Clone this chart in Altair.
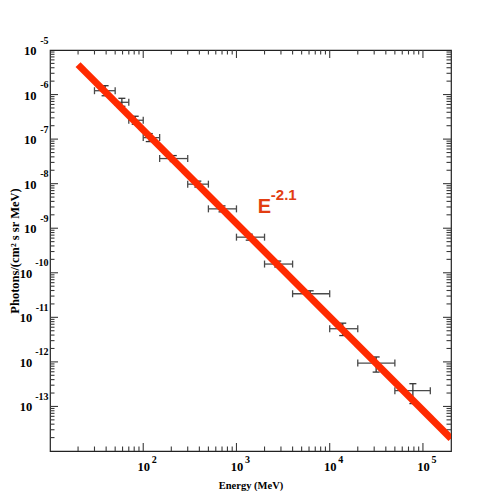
import altair as alt
import pandas as pd

# ---- data ----
energy = [39, 59, 82, 116, 210, 385, 700, 1370, 2770, 6170, 13800, 31500, 78000]
energy_lo = [30, 50, 70, 100, 150, 300, 500, 1000, 2000, 4000, 10000, 20000, 50000]
energy_hi = [50, 70, 100, 150, 300, 500, 1000, 2000, 4000, 10000, 20000, 50000, 120000]
flux = [1.22e-6, 6.7e-7, 2.65e-7, 1.08e-7, 3.66e-8, 9.75e-9, 2.72e-9, 6.3e-10,
        1.57e-10, 3.38e-11, 5.55e-12, 9.4e-13, 2.26e-13]
flux_lo = [9.4e-7, 5.45e-7, 2.16e-7, 8.8e-8, 3.14e-8, 8.4e-9, 2.33e-9, 5.4e-10,
           1.35e-10, 2.9e-11, 3.9e-12, 5.9e-13, 1.16e-13]
flux_hi = [1.58e-6, 8.24e-7, 3.26e-7, 1.33e-7, 4.27e-8, 1.14e-8, 3.17e-9, 7.35e-10,
           1.83e-10, 3.94e-11, 7.4e-12, 1.29e-12, 3.24e-13]

fit_energy = [20, 200000]
fit_flux = [4.7e-6, 1.9e-14]

ann_text = ["E"]
ann_x = [1693]
ann_y = [2.18e-9]
ann_sup = ["-2.1"]
ann_sup_x = [2335]
ann_sup_y = [4.33e-9]

x_domain = [10, 2e5]
y_domain = [1e-14, 1e-5]

x_major_labels = [1e2, 1e3, 1e4, 1e5]
x_major_ticks = [1e2, 1e3, 1e4, 1e5]
x_minor_ticks = [m * 10 ** k for k in range(1, 6) for m in range(2, 10) if m * 10 ** k < 2e5]
y_labels_1 = [1e-5, 1e-6, 1e-7, 1e-8, 1e-9]
y_labels_2 = [1e-10, 1e-11, 1e-12, 1e-13]
y_labels_all = y_labels_1 + y_labels_2
y_major_ticks = [1e-6, 1e-7, 1e-8, 1e-9, 1e-10, 1e-11, 1e-12, 1e-13]
y_minor_ticks = [m * 10.0 ** k for k in range(-14, -5) for m in range(2, 10)]

pts = pd.DataFrame(dict(energy=energy, elo=energy_lo, ehi=energy_hi,
                        flux=flux, flo=flux_lo, fhi=flux_hi))
fit = pd.DataFrame(dict(energy=fit_energy, flux=fit_flux))
ann = pd.DataFrame(dict(x=ann_x, y=ann_y, t=ann_text))
ann2 = pd.DataFrame(dict(x=ann_sup_x, y=ann_sup_y, t=ann_sup))

W = H = 401
xs = alt.Scale(type="log", domain=x_domain, nice=False)
ys = alt.Scale(type="log", domain=y_domain, nice=False)

SERIF = "Liberation Serif"
TICK_COLOR = "#3a3a3a"
BAR_COLOR = "#4a4a4a"
RED = "#ff2a00"
MAJOR, MINOR = 8, 4.5


def x_tick_layer(values, side, length):
    # inward tick marks on the top / bottom frame: x from the tick value, y at the frame edge
    edge = y_domain[0] if side == "bottom" else y_domain[1]
    df = pd.DataFrame({"tv": values, "edge": [edge] * len(values)})
    return alt.Chart(df).mark_tick(
        orient="vertical", size=length, thickness=1.1, color=TICK_COLOR, opacity=1,
        yOffset=(-length / 2) if side == "bottom" else (length / 2)
    ).encode(x=alt.X("tv:Q", scale=xs, axis=None), y=alt.Y("edge:Q", scale=ys, axis=None))


def y_tick_layer(values, side, length):
    edge = x_domain[0] if side == "left" else x_domain[1]
    df = pd.DataFrame({"tv": values, "edge": [edge] * len(values)})
    return alt.Chart(df).mark_tick(
        orient="horizontal", size=length, thickness=1.1, color=TICK_COLOR, opacity=1,
        xOffset=(length / 2) if side == "left" else (-length / 2)
    ).encode(y=alt.Y("tv:Q", scale=ys, axis=None), x=alt.X("edge:Q", scale=xs, axis=None))


def label_axis(orient, values, expr, size, pad, align, shift=0, **kw):
    return alt.Axis(orient=orient, values=values, labels=True, ticks=False,
                    domain=False, grid=False, labelExpr=expr,
                    labelFont=SERIF, labelFontWeight="bold", labelFontSize=size,
                    labelColor="black", labelPadding=pad, labelAlign=align,
                    labelBaseline="middle", labelOffset=shift,
                    labelOverlap=False, labelFlush=False, labelBound=False, **kw)


EXP = "'' + round(log(datum.value) / LN10)"

ticks = [
    x_tick_layer(x_major_ticks, "bottom", MAJOR),
    x_tick_layer(x_minor_ticks, "bottom", MINOR),
    x_tick_layer(x_major_ticks, "top", MAJOR),
    x_tick_layer(x_minor_ticks, "top", MINOR),
    y_tick_layer(y_major_ticks, "left", MAJOR),
    y_tick_layer(y_minor_ticks, "left", MINOR),
    y_tick_layer(y_major_ticks, "right", MAJOR),
    y_tick_layer(y_minor_ticks, "right", MINOR),
]

x_bars = alt.Chart(pts).mark_rule(color=BAR_COLOR, strokeWidth=1.3).encode(
    x=alt.X("elo:Q", scale=xs, axis=None),
    x2="ehi:Q",
    y=alt.Y("flux:Q", scale=ys, axis=None),
)

x_caps = alt.Chart(pts).transform_fold(["elo", "ehi"], as_=["k", "xv"]).mark_tick(
    orient="vertical", size=7, thickness=1.3, color=BAR_COLOR, opacity=1
).encode(
    x=alt.X("xv:Q", scale=xs, axis=None),
    y=alt.Y("flux:Q", scale=ys, axis=None),
)

y_bars = alt.Chart(pts).mark_rule(color="#333333", strokeWidth=1.3).encode(
    x=alt.X("energy:Q", scale=xs, axis=None),
    y=alt.Y("flo:Q", scale=ys, axis=None),
    y2="fhi:Q",
)

y_caps = alt.Chart(pts).transform_fold(["flo", "fhi"], as_=["k", "yv"]).mark_tick(
    orient="horizontal", size=7, thickness=1.3, color="#333333", opacity=1
).encode(
    x=alt.X("energy:Q", scale=xs, axis=None),
    y=alt.Y("yv:Q", scale=ys, axis=None),
)

line = alt.Chart(fit).mark_line(color=RED, strokeWidth=7, strokeCap="butt", clip=True).encode(
    x=alt.X("energy:Q", scale=xs,
            axis=label_axis("bottom", x_major_labels, "'10'", 12.5, 15.7, "center",
                            title="Energy (MeV)", titleFont=SERIF, titleFontWeight="bold",
                            titleFontSize=10.5, titleColor="black", titleX=200.5, titleY=34,
                            titleBaseline="middle", titleAlign="center")),
    y=alt.Y("flux:Q", scale=ys,
            axis=label_axis("left", y_labels_1, "'10'", 12.5, 14, "right", shift=0.5,
                            title="Photons/(cm² s sr MeV)", titleFont=SERIF,
                            titleFontWeight="bold", titleFontSize=12.5, titleColor="black",
                            titleX=-36, titleY=200.5, titleAngle=-90,
                            titleBaseline="middle", titleAlign="center")),
)

text_e = alt.Chart(ann).mark_text(
    align="left", baseline="alphabetic", font="Liberation Sans", fontSize=20,
    fontWeight="bold", color="#e23d12"
).encode(
    x=alt.X("x:Q", scale=xs,
            axis=label_axis("bottom", x_major_labels, EXP, 10, 8, "left", shift=8, title=None)),
    y=alt.Y("y:Q", scale=ys,
            axis=label_axis("left", y_labels_2, "'10'", 12.5, 18.3, "right", shift=0.5, title=None)),
    text="t:N",
)

text_sup = alt.Chart(ann2).mark_text(
    align="left", baseline="alphabetic", font="Liberation Sans", fontSize=15,
    fontWeight="bold", color="#e23d12"
).encode(
    x=alt.X("x:Q", scale=xs, axis=None),
    y=alt.Y("y:Q", scale=ys,
            axis=label_axis("left", y_labels_all, EXP, 10, 2, "right", shift=-10, title=None)),
    text="t:N",
)

chart = alt.layer(x_bars, x_caps, y_bars, y_caps, *ticks, line, text_e, text_sup).resolve_axis(
    x="independent", y="independent"
).properties(
    width=W, height=H,
    autosize=alt.AutoSizeParams(type="none"),
    padding={"left": 42, "top": 42, "right": 40, "bottom": 40},
).configure_view(
    stroke="#222222", strokeWidth=1.2
).configure_axis(
    grid=False
)

chart.save("out.html", embed_options={"renderer": "svg", "actions": False})
